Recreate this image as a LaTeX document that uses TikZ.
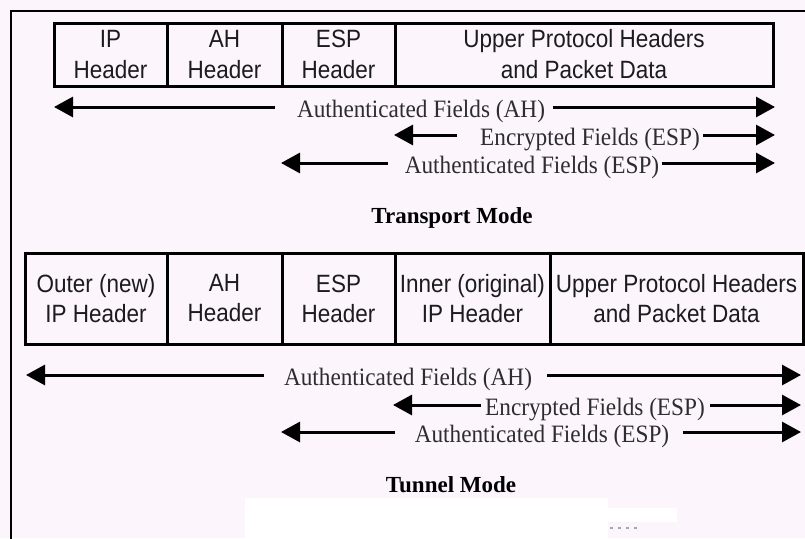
\documentclass[tikz,border=0pt]{standalone}
\usepackage{fontspec}
\usetikzlibrary{arrows.meta}
\definecolor{bgpink}{RGB}{252,245,252}
\definecolor{txt}{RGB}{28,28,28}
\definecolor{labtxt}{RGB}{45,45,45}
\newfontfamily\boxfont[FakeStretch=0.9]{Liberation Sans}
\newfontfamily\labfont[FakeStretch=0.93]{Liberation Serif}
\newfontfamily\titlefont{Liberation Serif}
\begin{document}
\begin{tikzpicture}[x=1pt,y=-1pt,
  cell/.style={draw=black, line width=3pt, inner sep=0pt, align=center, text=txt,
    font=\boxfont\fontsize{25}{31}\selectfont},
  tcell/.style={cell, font=\boxfont\fontsize{25}{30}\selectfont},
  lab/.style={inner sep=0pt, anchor=base, text=labtxt, font=\labfont\fontsize{25}{30}\selectfont},
  modetitle/.style={inner sep=0pt, anchor=base, text=black, font=\titlefont\bfseries\fontsize{23}{28}\selectfont},
  arr/.style={line width=3pt, -{Triangle[length=19pt,width=20pt]}},
]
\useasboundingbox (0,0) rectangle (805,538);
\clip (0,0) rectangle (805,538);
\fill[bgpink] (0,0) rectangle (805,538);
% outer frame
\draw[line width=2.5pt] (11,570) -- (11,11) -- (840,11);

% ---------- Transport mode packet ----------
\node[cell, minimum width=113pt, minimum height=63pt] (tip) at (110.5,54.5) {IP\\Header};
\node[cell, minimum width=115pt, minimum height=63pt] (tah) at (224.5,54.5) {AH\\Header};
\node[cell, minimum width=113pt, minimum height=63pt] (tesp) at (338.5,54.5) {ESP\\Header};
\node[cell, minimum width=378pt, minimum height=63pt] (tup) at (584,54.5) {Upper Protocol Headers\\and Packet Data};

% transport arrows
\node[lab] (ta1) at (421,117) {Authenticated Fields (AH)};
\coordinate (ta1l) at (275,107); \coordinate (ta1lt) at (54,107);
\coordinate (ta1r) at (553,107); \coordinate (ta1rt) at (775,107);
\draw[arr] (ta1l) -- (ta1lt);
\draw[arr] (ta1r) -- (ta1rt);

\node[lab] (ta2) at (590,145) {Encrypted Fields (ESP)};
\coordinate (ta2l) at (457,135); \coordinate (ta2lt) at (394,135);
\coordinate (ta2r) at (703,135); \coordinate (ta2rt) at (775,135);
\draw[arr] (ta2l) -- (ta2lt);
\draw[arr] (ta2r) -- (ta2rt);

\node[lab] (ta3) at (532,173) {Authenticated Fields (ESP)};
\coordinate (ta3l) at (388,163); \coordinate (ta3lt) at (281,163);
\coordinate (ta3r) at (662,163); \coordinate (ta3rt) at (775,163);
\draw[arr] (ta3l) -- (ta3lt);
\draw[arr] (ta3r) -- (ta3rt);

\node[modetitle] (tmode) at (452,223) {Transport Mode};

% ---------- Tunnel mode packet ----------
\node[tcell, minimum width=142pt, minimum height=91pt] (nout) at (96,298.5) {Outer (new)\\IP Header};
\node[tcell, minimum width=115pt, minimum height=91pt] (nah) at (224.5,298.5) {AH\\Header};
\node[tcell, minimum width=113pt, minimum height=91pt] (nesp) at (338.5,298.5) {ESP\\Header};
\node[tcell, minimum width=155pt, minimum height=91pt] (nin) at (472.5,298.5) {Inner (original)\\IP Header};
\node[tcell, minimum width=253pt, minimum height=91pt] (nup) at (676.5,298.5) {Upper Protocol Headers\\and Packet Data};

% tunnel arrows
\node[lab] (na1) at (408,385) {Authenticated Fields (AH)};
\coordinate (na1l) at (264,375); \coordinate (na1lt) at (26,375);
\coordinate (na1r) at (547,375); \coordinate (na1rt) at (801,375);
\draw[arr] (na1l) -- (na1lt);
\draw[arr] (na1r) -- (na1rt);

\node[lab] (na2) at (595,415) {Encrypted Fields (ESP)};
\coordinate (na2l) at (481,405); \coordinate (na2lt) at (393,405);
\coordinate (na2r) at (710,405); \coordinate (na2rt) at (801,405);
\draw[arr] (na2l) -- (na2lt);
\draw[arr] (na2r) -- (na2rt);

\node[lab] (na3) at (542,442) {Authenticated Fields (ESP)};
\coordinate (na3l) at (395,432); \coordinate (na3lt) at (281,432);
\coordinate (na3r) at (683,432); \coordinate (na3rt) at (801,432);
\draw[arr] (na3l) -- (na3lt);
\draw[arr] (na3r) -- (na3rt);

\node[modetitle] (nmode) at (451,492) {Tunnel Mode};

% white patch at the bottom
\fill[white] (245,498) rectangle (608,540);
\fill[white] (608,508) rectangle (677,522);
\foreach \dx in {610,618,626,634} \fill[gray!70] (\dx,527) rectangle ++(3,1.5);
\end{tikzpicture}
\end{document}
